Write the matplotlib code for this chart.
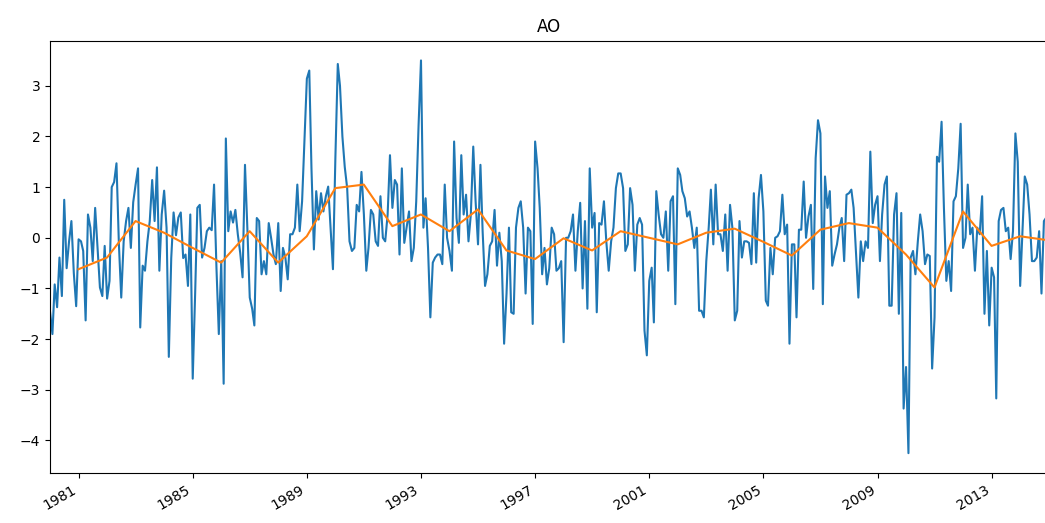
import matplotlib
matplotlib.use('Agg')
import matplotlib.pyplot as plt
import matplotlib.dates as mdates
import pandas as pd

# monthly AO index, Jan 1980 - Dec 2014 (one row per year)
ao_monthly = [
    -1.45, -1.9, -0.92, -1.37, -0.39, -1.15, 0.75, -0.6, -0.07, 0.33, -0.7, -1.35,   # 1980
    -0.03, -0.07, -0.26, -1.63, 0.46, 0.2, -0.46, 0.59, -0.2, -0.98, -1.15, -0.16,   # 1981
    -1.2, -0.85, 1.0, 1.1, 1.47, -0.13, -1.18, -0.07, 0.33, 0.59, -0.2, 0.7,         # 1982
    1.05, 1.37, -1.77, -0.55, -0.65, -0.07, 0.33, 1.14, 0.33, 1.39, -0.65, 0.46,     # 1983
    0.93, 0.2, -2.35, -0.4, 0.5, 0.05, 0.4, 0.5, -0.4, -0.33, -0.95, 0.46,           # 1984
    -2.78, -1.1, 0.59, 0.65, -0.39, -0.2, 0.13, 0.2, 0.15, 1.05, -0.6, -1.9,         # 1985
    -0.46, -2.88, 1.96, 0.13, 0.52, 0.3, 0.55, 0.07, -0.3, -0.78, 1.44, 0.2,         # 1986
    -1.18, -1.4, -1.73, 0.39, 0.33, -0.72, -0.46, -0.72, 0.29, 0.0, -0.33, -0.52,    # 1987
    0.29, -1.05, -0.2, -0.39, -0.82, 0.07, 0.07, 0.2, 1.05, 0.13, 0.72, 1.9,         # 1988
    3.14, 3.3, 1.37, -0.23, 0.92, 0.36, 0.88, 0.52, 0.82, 1.01, 0.2, -0.62,          # 1989
    1.57, 3.43, 3.0, 2.0, 1.4, 0.98, -0.07, -0.26, -0.2, 0.65, 0.52, 1.3,            # 1990
    0.46, -0.65, -0.2, 0.55, 0.46, -0.07, -0.16, 0.82, 0.0, -0.07, 0.46, 1.63,       # 1991
    0.59, 1.14, 1.05, -0.33, 1.37, -0.1, 0.2, 0.52, -0.46, -0.2, 0.72, 2.22,         # 1992
    3.5, 0.2, 0.78, -0.2, -1.57, -0.49, -0.39, -0.33, -0.33, -0.52, 1.05, 0.0,       # 1993
    -0.26, -0.65, 1.9, 0.39, -0.1, 1.63, 0.46, 0.85, -0.07, 0.46, 1.8, 0.72,         # 1994
    -0.13, 1.44, 0.13, -0.95, -0.72, -0.16, -0.07, 0.55, -0.55, 0.1, -0.46, -2.09,   # 1995
    -1.1, 0.2, -1.47, -1.5, 0.2, 0.59, 0.72, 0.2, -1.1, 0.2, 0.13, -1.7,             # 1996
    1.9, 1.37, 0.59, -0.72, -0.2, -0.92, -0.6, 0.2, 0.07, -0.65, -0.6, -0.46,        # 1997
    -2.06, 0.0, 0.0, 0.13, 0.46, -0.65, 0.13, 0.69, -1.0, 0.33, -1.4, 1.37,          # 1998
    0.2, 0.49, -1.47, 0.29, 0.26, 0.72, -0.07, -0.65, -0.07, 0.2, 0.98, 1.27,        # 1999
    1.27, 0.98, -0.26, -0.13, 0.98, 0.65, -0.65, 0.26, 0.39, 0.26, -1.83, -2.32,     # 2000
    -0.85, -0.59, -1.67, 0.92, 0.46, 0.07, 0.0, 0.52, -0.65, 0.72, 0.82, -1.31,      # 2001
    1.37, 1.24, 0.92, 0.78, 0.42, 0.52, 0.2, -0.2, 0.2, -1.44, -1.44, -1.57,         # 2002
    -0.46, 0.2, 0.95, -0.13, 1.05, 0.07, 0.07, -0.26, 0.46, -0.65, 0.65, 0.2,        # 2003
    -1.63, -1.44, 0.33, -0.39, -0.07, -0.07, -0.1, -0.52, 0.88, -0.49, 0.78, 1.24,   # 2004
    0.52, -1.24, -1.34, -0.2, -0.72, 0.0, 0.03, 0.13, 0.85, 0.07, 0.26, -2.09,       # 2005
    -0.13, -0.13, -1.57, 0.16, 0.16, 1.11, 0.0, 0.42, 0.65, -1.01, 1.57, 2.32,       # 2006
    2.06, -1.31, 1.21, 0.59, 0.92, -0.55, -0.33, -0.13, 0.2, 0.39, -0.46, 0.85,      # 2007
    0.88, 0.95, 0.59, -0.33, -1.18, -0.07, -0.46, -0.07, -0.2, 1.7, 0.29, 0.65,      # 2008
    0.82, -0.46, 0.46, 1.05, 1.21, -1.34, -1.34, 0.46, 0.88, -1.5, 0.49, -3.37,      # 2009
    -2.55, -4.25, -0.39, -0.26, -0.72, -0.07, 0.46, 0.13, -0.52, -0.33, -0.36, -2.58,  # 2010
    -1.57, 1.6, 1.5, 2.29, 0.59, -0.85, -0.46, -1.05, 0.72, 0.82, 1.37, 2.25,        # 2011
    -0.2, 0.0, 1.05, 0.07, 0.2, -0.65, 0.2, 0.07, 0.82, -1.5, -0.26, -1.73,          # 2012
    -0.59, -0.78, -3.17, 0.33, 0.55, 0.59, 0.13, 0.2, -0.42, 0.13, 2.06, 1.5,        # 2013
    -0.95, 0.2, 1.21, 1.05, 0.46, -0.46, -0.46, -0.39, 0.13, -1.1, 0.33, 0.4,        # 2014
]

# annual means, 1980 - 2014 (plotted at year end)
ao_annual = [
    -0.62, -0.39, 0.33, 0.1, -0.2, -0.49, 0.13, -0.49, 0.03, 0.98,
    1.05, 0.23, 0.46, 0.13, 0.56, -0.25, -0.42, -0.01, -0.25, 0.13,
    0.0, -0.13, 0.1, 0.18, -0.08, -0.35, 0.16, 0.29, 0.2, -0.33,
    -0.98, 0.52, -0.16, 0.03, -0.05,
]

tick_years = list(range(1981, 2014, 4))

months = pd.date_range('1980-01-01', periods=len(ao_monthly), freq='MS')
year_ends = pd.date_range('1980-12-31', periods=len(ao_annual), freq='YE')

fig = plt.figure(figsize=(10.45, 5.23), dpi=100)
ax = fig.add_axes([50 / 1045, 0.096, 998.6 / 1045, 0.826])

ax.plot(months, ao_monthly, color='tab:blue')
ax.plot(year_ends, ao_annual, color='tab:orange')

ax.set_xlim(months[0], year_ends[-1])
ax.set_xticks([pd.Timestamp(f'{y}-01-01') for y in tick_years])
ax.xaxis.set_major_formatter(mdates.DateFormatter('%Y'))
plt.setp(ax.get_xticklabels(), rotation=30, ha='right')
ax.set_title('AO')

fig.savefig('out.png')
plt.close(fig)
